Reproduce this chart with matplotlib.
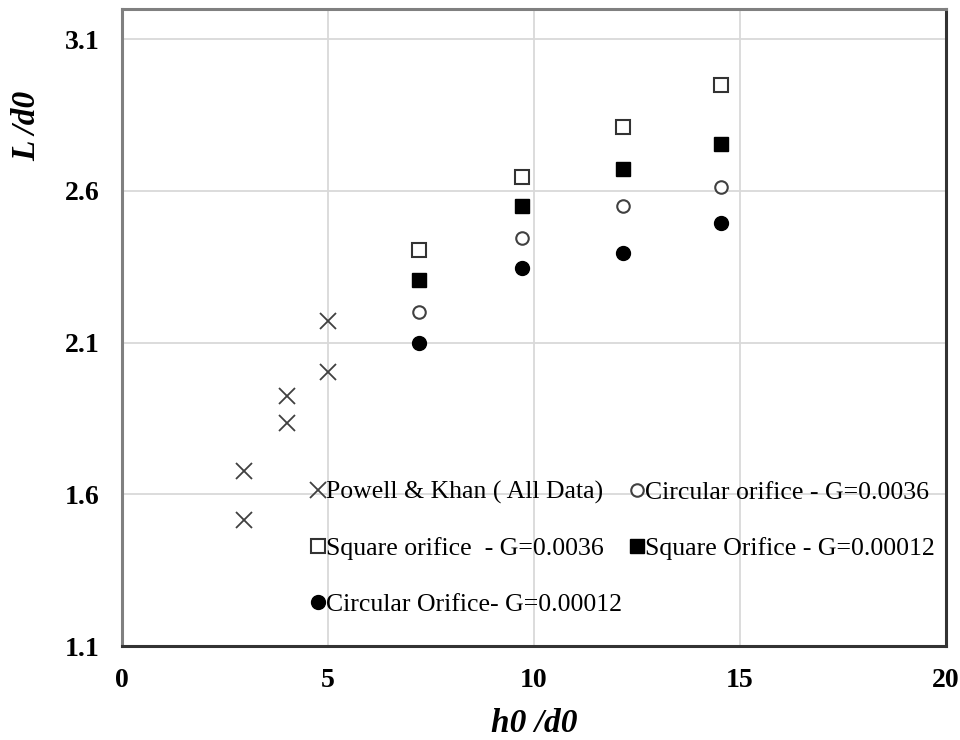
import numpy as np
import matplotlib
matplotlib.use("Agg")
import matplotlib.pyplot as plt

plt.rcParams['font.family'] = ['Liberation Serif', 'DejaVu Serif']

# Datos
pk_x = [2.95, 2.95, 4.0, 4.0, 5.0, 5.0]
pk_y = [1.514, 1.678, 1.836, 1.925, 2.002, 2.172]

orif_x = [7.2, 9.7, 12.15, 14.55]
sq_open_y = [2.404, 2.647, 2.811, 2.950]     # Square orifice - G=0.0036
sq_fill_y = [2.305, 2.549, 2.674, 2.756]     # Square Orifice - G=0.00012
ci_open_y = [2.201, 2.445, 2.549, 2.614]     # Circular orifice - G=0.0036
ci_fill_y = [2.100, 2.345, 2.396, 2.496]     # Circular Orifice- G=0.00012

x_ticks = [0, 5, 10, 15, 20]
y_ticks = [1.1, 1.6, 2.1, 2.6, 3.1]

fig = plt.figure(figsize=(9.6, 7.4), dpi=100)
ax = fig.add_axes([122 / 960, 1 - 646 / 740, (946 - 122) / 960, (646 - 9) / 740])

h1, = ax.plot(pk_x, pk_y, 'x', color='#404040', ms=11, mew=1.3,
              label='Powell & Khan ( All Data)')
h2, = ax.plot(orif_x, sq_open_y, 's', mfc='white', mec='#333333', ms=10, mew=1.5,
              label='Square orifice  - G=0.0036')
h3, = ax.plot(orif_x, ci_fill_y, 'o', color='black', ms=10,
              label='Circular Orifice- G=0.00012')
h4, = ax.plot(orif_x, ci_open_y, 'o', mfc='white', mec='#404040', ms=9, mew=1.5,
              label='Circular orifice - G=0.0036')
h5, = ax.plot(orif_x, sq_fill_y, 's', color='black', ms=10,
              label='Square Orifice - G=0.00012')

ax.set_xlim(0, 20)
ax.set_ylim(1.1, 3.2)
ax.set_xticks(x_ticks)
ax.set_yticks(y_ticks)
ax.set_xticklabels([str(t) for t in x_ticks])
ax.set_yticklabels([f'{t:.1f}' for t in y_ticks])
ax.tick_params(length=0, labelsize=20)
ax.tick_params(axis='y', pad=16)
ax.tick_params(axis='x', pad=16)
for lab in ax.get_xticklabels() + ax.get_yticklabels():
    lab.set_fontweight('bold')

ax.grid(True, color='#d9d9d9', linewidth=1.3)
ax.set_axisbelow(True)

for s in ['top', 'left']:
    ax.spines[s].set_color('#808080')
    ax.spines[s].set_linewidth(2.2)
for s in ['bottom', 'right']:
    ax.spines[s].set_color('#333333')
    ax.spines[s].set_linewidth(2.2)

ax.set_xlabel('h0 /d0', fontsize=24, fontweight='bold', style='italic')
ax.xaxis.set_label_coords(0.5, -0.098)
ax.set_ylabel('L /d0', fontsize=24, fontweight='bold', style='italic')
ax.yaxis.set_label_coords(-0.097, 0.816)

leg = ax.legend(handles=[h1, h2, h3, h4, h5], ncol=2, frameon=False,
                fontsize=18.5, loc='upper left', bbox_to_anchor=(0.2317, 0.259),
                handlelength=0.4, handletextpad=0.1, columnspacing=0.4,
                labelspacing=1.28, borderaxespad=0, borderpad=0)

fig.savefig('out.png', dpi=100)
